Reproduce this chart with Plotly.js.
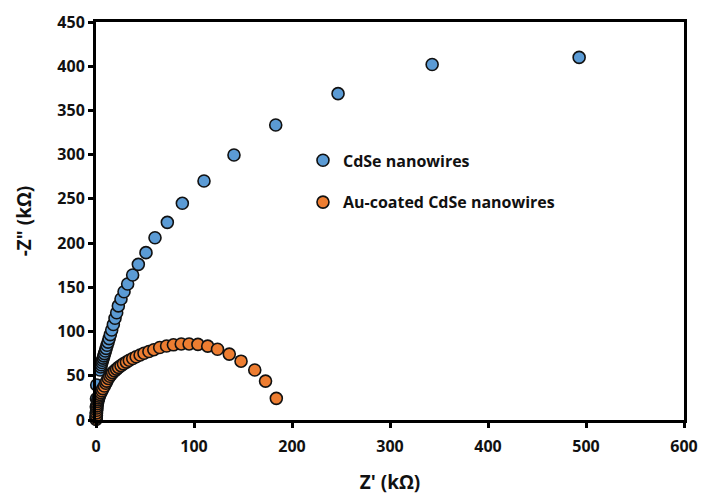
<!DOCTYPE html>
<html>
<head>
<meta charset="utf-8">
<script src="https://cdn.plot.ly/plotly-3.0.1.min.js"></script>
<style>html,body{margin:0;padding:0;background:#fff;}#chart{width:703px;height:495px;}</style>
</head>
<body>
<div id="chart"></div>
<script>
// CdSe nanowires (Z' kΩ, -Z'' kΩ)
const cdseX = [0.1, 0.2, 0.3, 0.5, 0.7, 4.1, 4.8, 5.4, 6.0, 6.6, 7.3, 8.0, 8.7, 9.5, 10.4, 11.3, 12.3, 13.4, 14.6, 16.0, 17.7, 19.4, 21.1, 22.8, 25.5, 28.6, 32.3, 37.4, 43.2, 51.0, 60.2, 72.8, 88.1, 110.2, 140.8, 183.4, 247, 343, 493];
const cdseY = [3, 8, 15, 24, 39.6, 56.5, 60, 62.5, 65, 67.5, 70, 72.5, 75, 78, 81, 84.5, 88, 92, 96.5, 101.8, 108, 115, 121.3, 129, 136.8, 145, 153.8, 164, 176, 189.2, 206, 223.5, 245, 270.2, 299.6, 333.6, 369, 402, 410];

// Au-coated CdSe nanowires
const auX = [0.1, 0.2, 0.4, 0.5, 0.7, 0.9, 1.1, 1.4, 1.8, 2.2, 2.7, 3.3, 4.0, 5.0, 6.0, 7.0, 8.5, 10.0, 11.0, 12.5, 14.0, 15.5, 17, 19, 21, 23, 25.5, 28, 31, 34, 37.5, 41, 45, 49, 54, 59, 65, 72, 79, 87, 95, 104, 114, 124, 136, 148, 162, 173, 184];
const auY = [0.5, 2, 5, 8, 11, 13.5, 16, 18.5, 21, 23, 25, 27, 29, 31, 33, 35.5, 38.5, 41.5, 44, 47, 49.5, 51.5, 53.5, 55.5, 57.5, 59.5, 61.5, 63.5, 65.5, 67.5, 69.5, 71.5, 73.5, 75.5, 77.5, 79.5, 82, 83.7, 85, 86, 86, 85.5, 83.5, 80, 74.5, 66.5, 56.5, 44, 24.5];

const seriesNames = ['CdSe nanowires', 'Au-coated CdSe nanowires'];
const xTicks = [0, 100, 200, 300, 400, 500, 600];
const yTicks = [0, 50, 100, 150, 200, 250, 300, 350, 400, 450];

const FONT = '"Open Sans", "Liberation Sans", sans-serif';
const mk = (color) => ({size: 12, color: color, line: {color: '#111111', width: 1.6}});

const traces = [
  {x: cdseX, y: cdseY, type: 'scatter', mode: 'markers', name: seriesNames[0], legendgroup: 'a', marker: mk('#5B9BD5'), cliponaxis: false},
  {x: auX, y: auY, type: 'scatter', mode: 'markers', name: seriesNames[1], legendgroup: 'b', marker: mk('#ED7D31'), cliponaxis: false}
];

const axisCommon = {
  showgrid: false, zeroline: false, showline: true, mirror: true,
  linecolor: '#000000', linewidth: 3, ticks: 'outside', ticklen: 5, tickwidth: 3, tickcolor: '#000000',
  tickfont: {family: FONT, size: 16, color: '#111111', weight: 'bold'}
};

const layout = {
  width: 703, height: 495,
  margin: {l: 96, r: 19, t: 22, b: 75},
  paper_bgcolor: '#ffffff', plot_bgcolor: '#ffffff',
  showlegend: true,
  legend: {x: 0.352, y: 0.695, xanchor: 'left', yanchor: 'top', traceorder: 'grouped', tracegroupgap: 18,
           font: {family: FONT, size: 16, color: '#111111', weight: 'bold'}, bgcolor: 'rgba(0,0,0,0)'},
  xaxis: Object.assign({}, axisCommon, {
    range: [0, 600], tickvals: xTicks, ticktext: xTicks.map(String), ticklabelstandoff: 5,
    title: {text: "Z' (kΩ)", font: {family: FONT, size: 19, color: '#111111', weight: 'bold'}, standoff: 22}
  }),
  yaxis: Object.assign({}, axisCommon, {
    range: [0, 450], tickvals: yTicks, ticktext: yTicks.map(String),
    title: {text: '-Z" (kΩ)', font: {family: FONT, size: 19, color: '#111111', weight: 'bold'}, standoff: 21}
  })
};

Plotly.newPlot('chart', traces, layout, {displayModeBar: false, staticPlot: true});
</script>
</body>
</html>
